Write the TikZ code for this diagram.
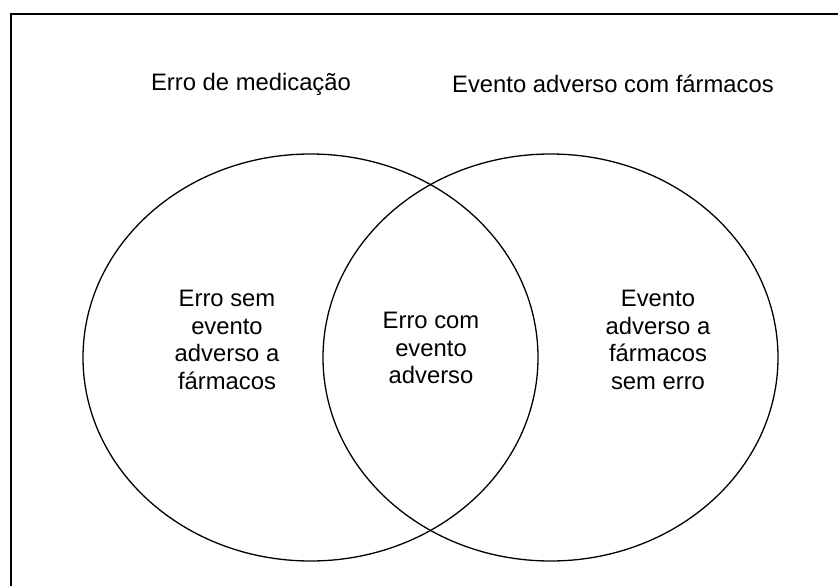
\documentclass[tikz,border=0pt]{standalone}
\usepackage{fontspec}
\setmainfont{Liberation Sans}
\begin{document}
\begin{tikzpicture}[x=1bp,y=-1bp,
  lbl/.style={align=center,inner sep=0pt,font=\fontsize{23.9}{27.5}\selectfont}]
\clip (0,0) rectangle (838,586);
\draw[line width=2bp] (11,14) rectangle (860,610);
\draw[line width=1.3bp] (310.5,357.5) ellipse [x radius=227.5bp, y radius=203.5bp];
\draw[line width=1.3bp] (550.5,357.5) ellipse [x radius=227.5bp, y radius=203.5bp];
\node[lbl] (medicacao) at (251,84) {Erro de medicação};
\node[lbl] (farmacos) at (613,84) {Evento adverso com fármacos};
\node[lbl] (semevento) at (227,340) {Erro sem\\evento\\adverso a\\fármacos};
\node[lbl] (comevento) at (431,348) {Erro com\\evento\\adverso};
\node[lbl] (semerro) at (658,340) {Evento\\adverso a\\fármacos\\sem erro};
\end{tikzpicture}
\end{document}
